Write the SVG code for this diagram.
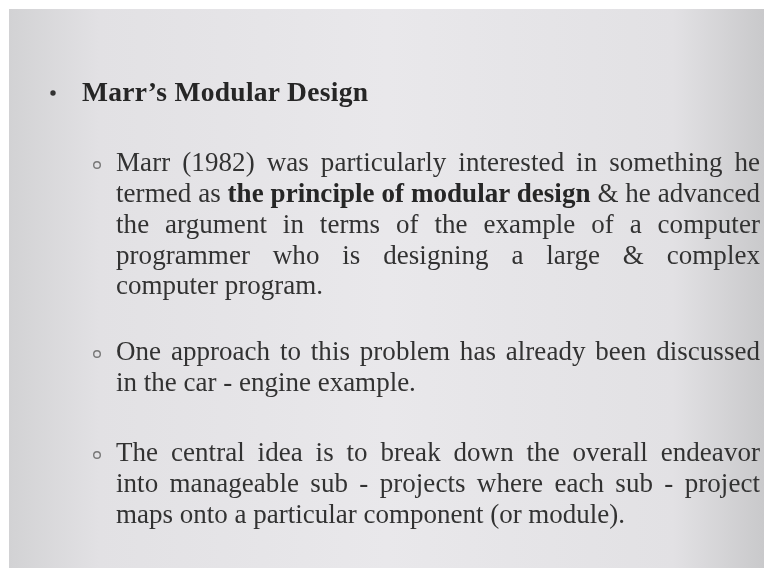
<svg xmlns="http://www.w3.org/2000/svg" width="764" height="577" viewBox="0 0 764 577">
  <defs>
    <linearGradient id="bg" x1="0" y1="0" x2="1" y2="0">
      <stop offset="0" stop-color="#d2d2d4"/>
      <stop offset="0.12" stop-color="#e2e1e4"/>
      <stop offset="0.5" stop-color="#e9e8eb"/>
      <stop offset="0.88" stop-color="#e2e1e4"/>
      <stop offset="1" stop-color="#c9c9cb"/>
    </linearGradient>
    <filter id="soft" x="-5%" y="-20%" width="110%" height="140%">
      <feGaussianBlur stdDeviation="0.55"/>
    </filter>
  </defs>
  <style>
    .body { font-family: "Liberation Serif", "Times New Roman", serif; font-size: 27px; fill: #333333; }
    .title { font-family: "Liberation Serif", "Times New Roman", serif; font-size: 27.5px; font-weight: bold; fill: #262626; }
    .b { font-weight: bold; fill: #262626; }
    .sub { fill: none; stroke: #777777; stroke-width: 1.4; }
  </style>

  <rect x="0" y="0" width="764" height="577" fill="#ffffff"/>
  <rect x="9" y="9" width="755" height="559" fill="url(#bg)"/>

  <g filter="url(#soft)">
    <g id="title">
      <circle cx="53" cy="93" r="2.7" fill="#333333"/>
      <text class="title" x="82" y="101" textLength="286" lengthAdjust="spacing">Marr’s Modular Design</text>
    </g>

    <g id="para1">
      <circle class="sub" cx="97" cy="165" r="3.3"/>
      <text class="body" x="116" y="171" textLength="644" lengthAdjust="spacing" style="word-spacing:5px">Marr (1982) was particularly interested in something he</text>
      <text class="body" x="116" y="202" textLength="644" lengthAdjust="spacing">termed as <tspan class="b">the principle of modular design</tspan> &amp; he advanced</text>
      <text class="body" x="116" y="232.5" textLength="644" lengthAdjust="spacing" style="word-spacing:9px">the argument in terms of the example of a computer</text>
      <text class="body" x="116" y="263.5" textLength="644" lengthAdjust="spacing" style="word-spacing:16px">programmer who is designing a large &amp; complex</text>
      <text class="body" x="116" y="294">computer program.</text>
    </g>

    <g id="para2">
      <circle class="sub" cx="97" cy="354" r="3.3"/>
      <text class="body" x="116" y="360" textLength="644" lengthAdjust="spacing" style="word-spacing:3px">One approach to this problem has already been discussed</text>
      <text class="body" x="116" y="391">in the car - engine example.</text>
    </g>

    <g id="para3">
      <circle class="sub" cx="97" cy="455" r="3.3"/>
      <text class="body" x="116" y="461" textLength="644" lengthAdjust="spacing" style="word-spacing:6px">The central idea is to break down the overall endeavor</text>
      <text class="body" x="116" y="492" textLength="644" lengthAdjust="spacing" style="word-spacing:4.5px">into manageable sub - projects where each sub - project</text>
      <text class="body" x="116" y="523">maps onto a particular component (or module).</text>
    </g>
  </g>
</svg>
